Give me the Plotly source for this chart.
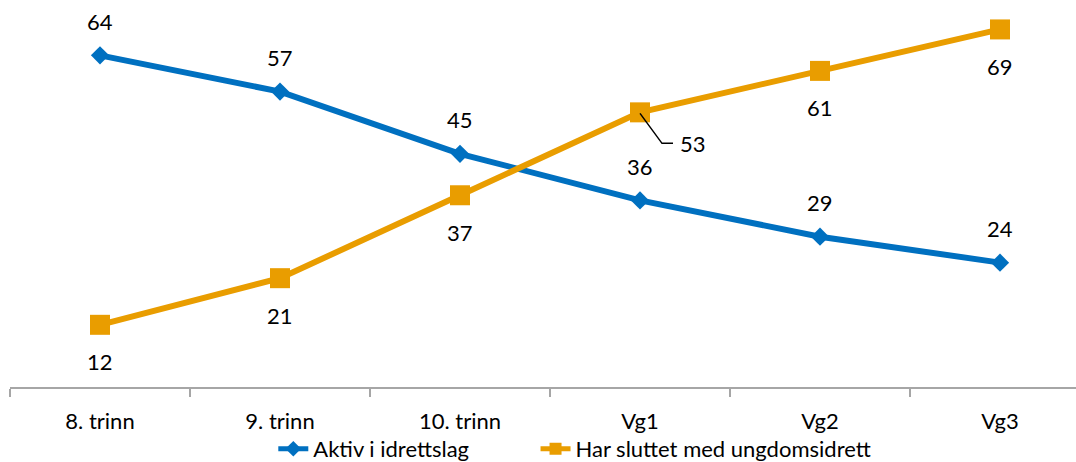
import plotly.graph_objects as go

# Grade levels along the x axis
categories = ["8. trinn", "9. trinn", "10. trinn", "Vg1", "Vg2", "Vg3"]

# Share (%) per grade level
aktiv = [64, 57, 45, 36, 29, 24]
sluttet = [12, 21, 37, 53, 61, 69]

series_names = ["Aktiv i idrettslag", "Har sluttet med ungdomsidrett"]

BLUE = "#0070C0"
ORANGE = "#E99D00"
FONT = "Lato"
FONT_SIZE = 22

fig = go.Figure()

fig.add_trace(go.Scatter(
    x=categories, y=aktiv, name=series_names[0],
    mode="lines+markers",
    line=dict(color=BLUE, width=6),
    marker=dict(symbol="diamond", size=14, color=BLUE),
    cliponaxis=False, legend="legend",
))
fig.add_trace(go.Scatter(
    x=categories, y=sluttet, name=series_names[1],
    mode="lines+markers",
    line=dict(color=ORANGE, width=6),
    marker=dict(symbol="square", size=20, color=ORANGE),
    cliponaxis=False, legend="legend2",
))

label_font = dict(family=FONT, size=FONT_SIZE, color="#000")
annotations = []
# Blue labels sit above their points
for c, v in zip(categories, aktiv):
    annotations.append(dict(x=c, y=v, text=str(v), showarrow=False, yshift=34,
                            font=label_font))

# Orange labels sit below; Vg1 gets a leader line to the lower right
shapes = []
for i, (c, v) in enumerate(zip(categories, sluttet)):
    if c == "Vg1":
        annotations.append(dict(x=c, y=v, text=str(v), showarrow=False,
                                xshift=53, yshift=-31, font=label_font))
        shapes.append(dict(type="path", xref="x", yref="y",
                           xsizemode="pixel", ysizemode="pixel",
                           xanchor=i, yanchor=v,
                           path="M0,-1 L22,-31 L33,-31",
                           line=dict(color="#000", width=1.5)))
    else:
        annotations.append(dict(x=c, y=v, text=str(v), showarrow=False, yshift=-37,
                                font=label_font))

legend_common = dict(orientation="h", yanchor="middle", y=-0.16, xanchor="left",
                     font=label_font, itemwidth=30, itemsizing="constant",
                     bgcolor="rgba(0,0,0,0)", borderwidth=0)

fig.update_layout(
    width=1076, height=462,
    margin=dict(l=10, r=0, t=0, b=75, autoexpand=False),
    paper_bgcolor="white", plot_bgcolor="white",
    font=label_font,
    showlegend=True,
    legend=dict(x=0.247, **legend_common),
    legend2=dict(x=0.493, **legend_common),
    annotations=annotations,
    shapes=shapes,
)

fig.update_xaxes(
    type="category", categoryorder="array", categoryarray=categories,
    range=[-0.5, -0.5 + 1066 / 180],
    showline=True, linecolor="#A6A6A6", linewidth=1.5,
    ticks="outside", tickson="boundaries", ticklen=8, tickcolor="#A6A6A6", tickwidth=1.5,
    ticklabelstandoff=14,
    showgrid=False, zeroline=False,
    tickfont=label_font,
)
fig.update_yaxes(range=[0, 74.68], visible=False, showgrid=False, zeroline=False)

fig.write_html("out.html")
